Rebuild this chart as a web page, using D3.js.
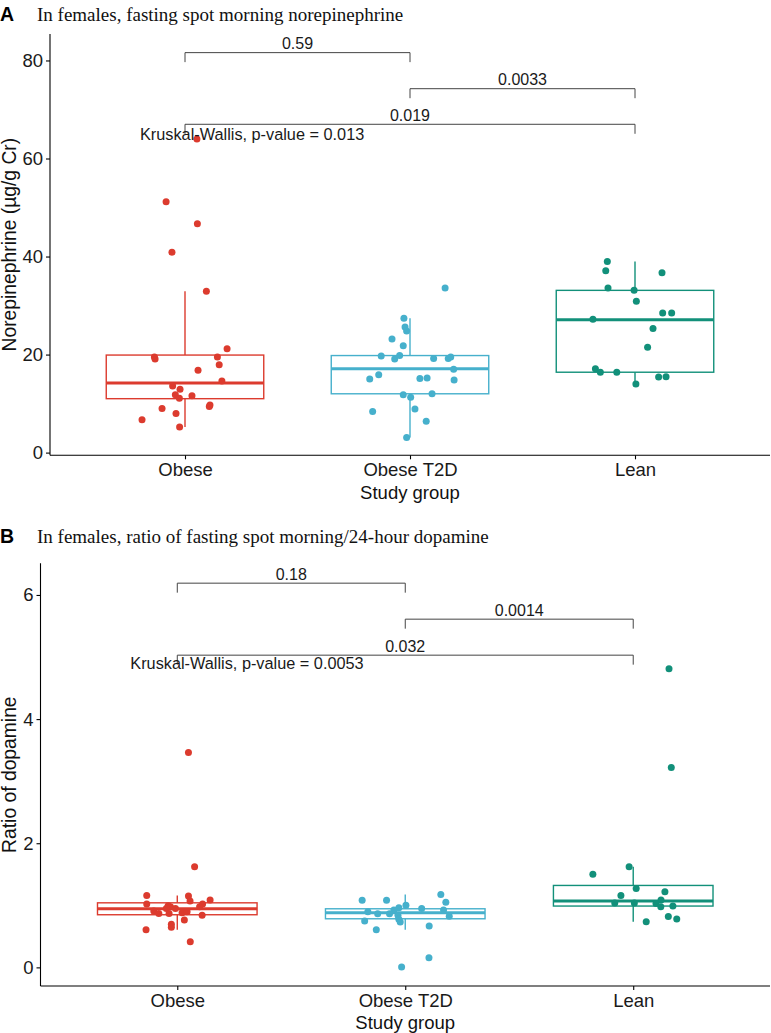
<!DOCTYPE html>
<html>
<head>
<meta charset="utf-8">
<script src="https://cdn.jsdelivr.net/npm/d3@7"></script>
<style>
  body { margin: 0; background: #fff; }
  svg { display: block; }
  .axis text { font-family: "Liberation Sans", Arial, sans-serif; font-size: 18.5px; fill: #1a1a1a; }
  .axis path, .axis line { stroke: #000; stroke-width: 1.1px; }
</style>
</head>
<body>
<svg id="chart" width="771" height="1033"></svg>
<script>
// study groups, shared by both panels
const groups = ['Obese', 'Obese T2D', 'Lean']
const groupColors = ['#dc3b2e', '#46b0cc', '#12907a']

// ---- panel A: norepinephrine (ug/g Cr); points are [value, jitter in group steps]
const neObese = [[64.0, 0.053], [51.2, -0.084], [46.7, 0.055], [40.9, -0.058], [32.9, 0.095],
  [21.2, 0.187], [19.5, -0.136], [19.1, -0.133], [19.5, 0.144], [17.9, 0.152], [16.8, 0.058],
  [14.6, 0.164], [13.6, -0.055], [12.9, -0.022], [11.8, -0.043], [11.1, -0.025], [11.6, 0.031],
  [9.7, 0.111], [9.4, 0.108], [9.0, -0.102], [8.0, -0.04], [6.7, -0.191], [5.2, -0.024]]
const neT2D = [[33.6, 0.156], [27.4, -0.027], [25.6, -0.022], [24.8, -0.015], [23.2, -0.08],
  [21.8, -0.03], [19.7, -0.128], [19.1, -0.068], [19.8, -0.046], [19.2, 0.105], [19.2, 0.17],
  [19.5, 0.181], [17.0, 0.194], [15.9, -0.139], [15.0, -0.179], [15.1, 0.044], [15.2, 0.076],
  [14.8, 0.196], [11.8, -0.03], [11.3, 0.003], [12.0, 0.098], [8.4, -0.166], [8.9, 0.022],
  [6.4, 0.072], [3.1, -0.015]]
const neLean = [[39.0, -0.123], [37.1, -0.13], [36.7, 0.12], [33.6, -0.12], [33.1, -0.004],
  [30.9, 0.006], [28.5, 0.123], [28.5, 0.163], [27.2, -0.187], [25.3, 0.08], [21.5, 0.056],
  [17.1, -0.176], [16.4, -0.154], [16.4, -0.081], [15.4, 0.105], [15.5, 0.138], [14.0, 0.004]]
// box stats per group: [lower whisker, q1, median, q3, upper whisker]
const neBoxes = [[5.2, 11.0, 14.2, 19.9, 32.9], [3.1, 12.0, 17.1, 19.8, 27.4], [14.0, 16.4, 27.1, 33.1, 39.0]]
const neTicks = [0, 20, 40, 60, 80]
const neDomain = [-0.55, 85.4]
const nePairs = [['Obese', 'Obese T2D'], ['Obese T2D', 'Lean'], ['Obese', 'Lean']]
const nePvals = ['0.59', '0.0033', '0.019']
const neBracketY = [81.6, 74.24, 66.98]
const neKruskal = 'Kruskal-Wallis, p-value = 0.013'

// ---- panel B: ratio of spot morning / 24-hour dopamine
const daObese = [[3.46, 0.049], [1.62, 0.076], [1.16, -0.134], [1.15, 0.049], [1.085, 0.144],
  [1.07, 0.056], [1.02, -0.134], [1.02, 0.111], [0.977, 0.098], [0.993, -0.04], [0.977, -0.03],
  [0.95, -0.008], [0.95, -0.048], [0.907, -0.103], [0.87, -0.081], [0.87, -0.036], [0.88, 0.021],
  [0.896, 0.043], [0.838, 0.109], [0.762, 0.031], [0.693, -0.026], [0.645, -0.026], [0.606, -0.137],
  [0.413, 0.057]]
const daT2D = [[1.176, 0.156], [1.08, -0.189], [1.08, -0.082], [1.048, 0.178], [1.0, 0.003],
  [0.96, -0.028], [0.95, 0.072], [0.923, -0.05], [0.896, -0.164], [0.923, 0.168], [0.864, -0.121],
  [0.864, -0.069], [0.838, -0.032], [0.822, 0.193], [0.774, -0.028], [0.746, -0.178], [0.73, -0.022],
  [0.666, 0.105], [0.606, -0.127], [0.155, 0.104], [0.005, -0.016]]
const daLean = [[4.81, 0.157], [3.22, 0.167], [1.62, -0.018], [1.50, -0.177], [1.27, 0.013],
  [1.22, 0.139], [1.16, -0.054], [1.085, 0.122], [1.036, -0.081], [1.036, 0.005], [1.03, 0.1],
  [0.977, 0.121], [0.988, 0.174], [0.82, 0.154], [0.778, 0.191], [0.735, 0.057]]
const daBoxes = [[0.606, 0.848, 0.944, 1.04, 1.16], [0.606, 0.783, 0.88, 0.944, 1.176], [0.735, 0.988, 1.068, 1.32, 1.62]]
const daTicks = [0, 2, 4, 6]
const daDomain = [-0.30, 6.51]
const daPairs = [['Obese', 'Obese T2D'], ['Obese T2D', 'Lean'], ['Obese', 'Lean']]
const daPvals = ['0.18', '0.0014', '0.032']
const daBracketY = [6.19, 5.61, 5.03]
const daKruskal = 'Kruskal-Wallis, p-value = 0.0053'

var svg = d3.select('#chart')
var sans = '"Liberation Sans", Arial, sans-serif'
var serif = '"Liberation Serif", "Times New Roman", serif'

function drawPanel(cfg) {
  var x = d3.scalePoint().domain(groups).range([cfg.left, cfg.right]).padding(0.6)
  var y = d3.scaleLinear().domain(cfg.domain).range([cfg.bottom, cfg.top])
  var step = x.step()
  var g = svg.append('g')

  // panel letter + title
  g.append('text').attr('x', 0).attr('y', cfg.titleY)
    .style('font-family', sans).style('font-weight', 'bold').style('font-size', '19.5px')
    .text(cfg.letter)
  g.append('text').attr('x', 37).attr('y', cfg.titleY)
    .style('font-family', serif).style('font-size', '19px').attr('fill', '#111')
    .text(cfg.title)

  // boxes
  cfg.boxes.forEach(function (b, i) {
    var cx = x(groups[i]), hw = step * 0.35, col = groupColors[i]
    var bx = g.append('g').attr('stroke', col).attr('fill', 'none')
    bx.append('line').attr('x1', cx).attr('x2', cx).attr('y1', y(b[0])).attr('y2', y(b[1])).attr('stroke-width', 1.4)
    bx.append('line').attr('x1', cx).attr('x2', cx).attr('y1', y(b[3])).attr('y2', y(b[4])).attr('stroke-width', 1.4)
    bx.append('rect').attr('x', cx - hw).attr('width', hw * 2)
      .attr('y', y(b[3])).attr('height', y(b[1]) - y(b[3])).attr('stroke-width', 1.4)
    bx.append('line').attr('x1', cx - hw).attr('x2', cx + hw).attr('y1', y(b[2])).attr('y2', y(b[2])).attr('stroke-width', 3)
  })

  // jittered points
  cfg.points.forEach(function (pts, i) {
    g.selectAll(null).data(pts).enter().append('circle')
      .attr('cx', function (d) { return x(groups[i]) + d[1] * step })
      .attr('cy', function (d) { return y(d[0]) })
      .attr('r', 3.5)
      .attr('fill', groupColors[i])
  })

  // comparison brackets
  cfg.pairs.forEach(function (p, i) {
    var x1 = x(p[0]), x2 = x(p[1]), yy = y(cfg.bracketY[i]), tip = 9.5
    g.append('path')
      .attr('d', 'M' + x1 + ',' + (yy + tip) + 'V' + yy + 'H' + x2 + 'V' + (yy + tip))
      .attr('fill', 'none').attr('stroke', '#444').attr('stroke-width', 1)
    g.append('text').attr('x', (x1 + x2) / 2).attr('y', yy - 3.5)
      .attr('text-anchor', 'middle').style('font-family', sans).style('font-size', '16px').attr('fill', '#1a1a1a')
      .text(cfg.pvals[i])
  })

  g.append('text').attr('x', x('Obese') + cfg.kwDx * step).attr('y', y(cfg.kwY))
    .style('font-family', sans).style('font-size', '16.3px').attr('fill', '#1a1a1a')
    .text(cfg.kruskal)

  // axes
  g.append('g').attr('class', 'axis')
    .attr('transform', 'translate(' + cfg.left + ',0)')
    .call(d3.axisLeft(y).tickValues(cfg.ticks).tickFormat(d3.format('d')).tickSize(4).tickPadding(3))
    .call(function (a) { a.select('.domain').attr('d', 'M0,' + cfg.top + 'V' + cfg.bottom) })
  g.append('g').attr('class', 'axis')
    .attr('transform', 'translate(0,' + cfg.bottom + ')')
    .call(d3.axisBottom(x).tickSize(4).tickPadding(4))
    .call(function (a) { a.select('.domain').attr('d', 'M' + cfg.left + ',0H' + cfg.right) })

  g.append('text').attr('x', x('Obese T2D')).attr('y', cfg.bottom + cfg.xlabDy)
    .attr('text-anchor', 'middle').style('font-family', sans).style('font-size', '18.5px').attr('fill', '#111')
    .text('Study group')
  g.append('text')
    .attr('transform', 'translate(' + cfg.ylabX + ',' + (cfg.top + cfg.bottom) / 2 + ') rotate(-90)')
    .attr('text-anchor', 'middle').style('font-family', sans).style('font-size', '19.3px').attr('fill', '#111')
    .text(cfg.ylab)
}

drawPanel({
  letter: 'A', title: 'In females, fasting spot morning norepinephrine', titleY: 21,
  left: 50, right: 770, top: 34, bottom: 455.3, ylabX: 16, xlabDy: 43.5,
  domain: neDomain, ticks: neTicks, points: [neObese, neT2D, neLean], boxes: neBoxes,
  pairs: nePairs, pvals: nePvals, bracketY: neBracketY, kruskal: neKruskal, kwDx: -0.2, kwY: 63.7,
  ylab: 'Norepinephrine (\u00b5g/g Cr)'
})

drawPanel({
  letter: 'B', title: 'In females, ratio of fasting spot morning/24-hour dopamine', titleY: 543,
  left: 40.5, right: 770, top: 563.3, bottom: 986, ylabX: 16, xlabDy: 42.5,
  domain: daDomain, ticks: daTicks, points: [daObese, daT2D, daLean], boxes: daBoxes,
  pairs: daPairs, pvals: daPvals, bracketY: daBracketY, kruskal: daKruskal, kwDx: -0.206, kwY: 4.8,
  ylab: 'Ratio of dopamine'
})
</script>
</body>
</html>
